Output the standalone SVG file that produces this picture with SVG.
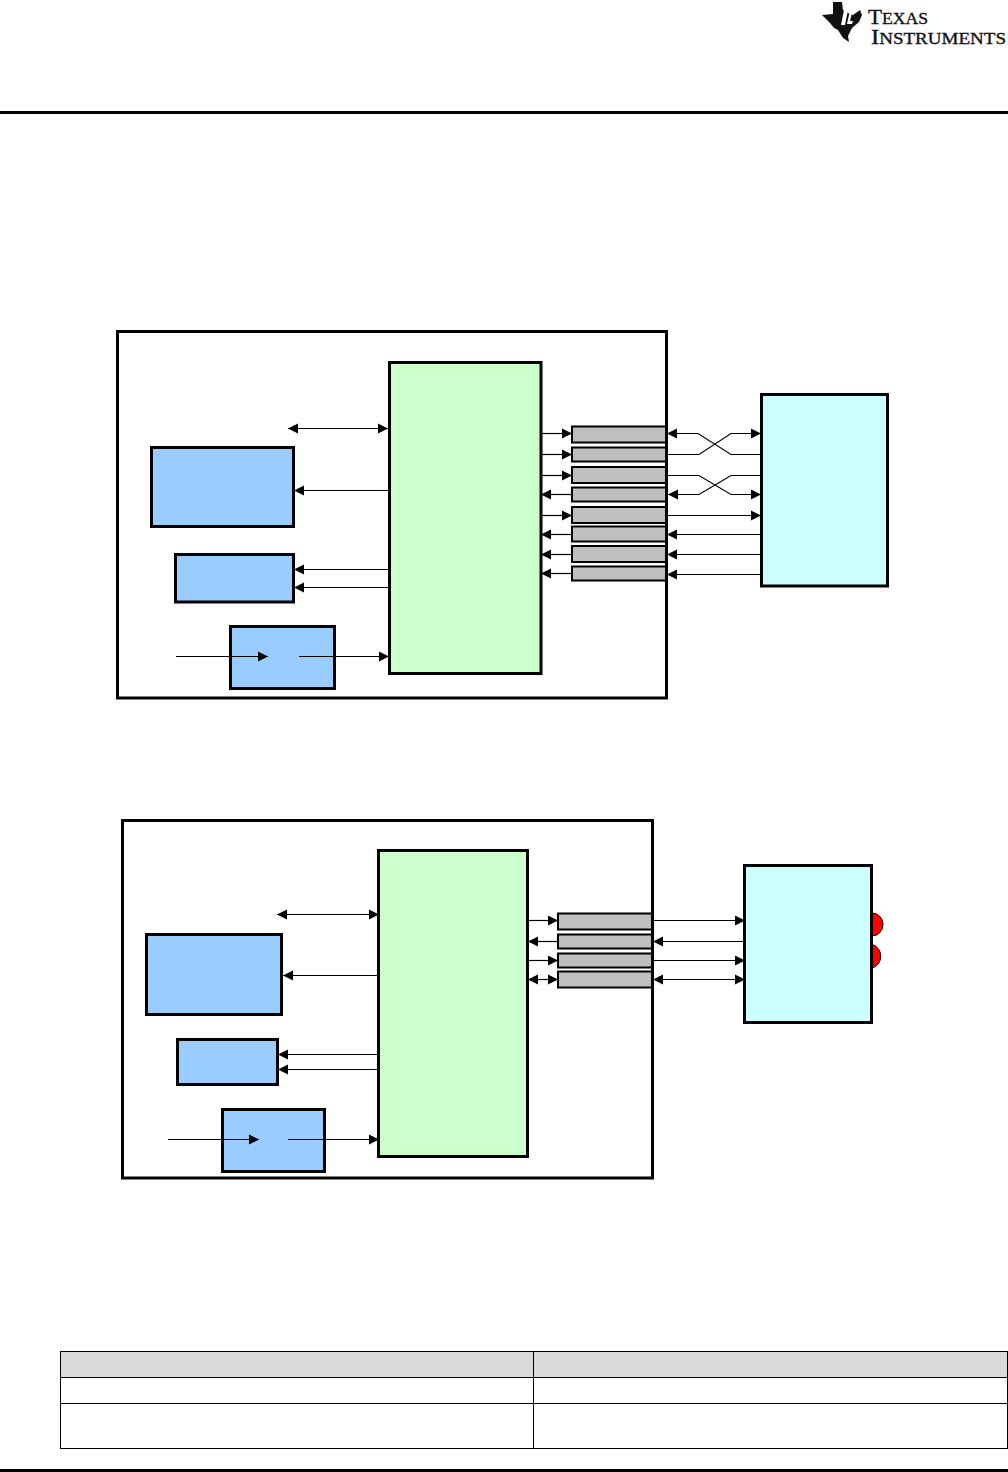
<svg xmlns="http://www.w3.org/2000/svg" width="1008" height="1472" viewBox="0 0 1008 1472">
<style>
.box{stroke:#000;stroke-width:3}
.blue{fill:#99ccff}.green{fill:#ccffcc}.cyan{fill:#ccffff}
.gray{fill:#bfbfbf;stroke:#000;stroke-width:2}
.frame{fill:#fff;stroke:#000;stroke-width:3}
.c line,.c polyline{fill:none;stroke:#000;stroke-width:1.2}
.cell{stroke:#000;stroke-width:1;fill:#fff}
.logo{font-family:"Liberation Serif",serif;fill:#111;stroke:#111;stroke-width:.35}
</style>
<defs>
<marker id="e" markerUnits="userSpaceOnUse" markerWidth="11" markerHeight="11" refX="10" refY="5.500" orient="auto"><path d="M0 .5L10 5.500L0 10.500Z" fill="#000"/></marker>
<marker id="s" markerUnits="userSpaceOnUse" markerWidth="11" markerHeight="11" refX="0" refY="5.500" orient="auto"><path d="M10 .5L0 5.500L10 10.500Z" fill="#000"/></marker>
</defs>
<rect width="1008" height="1472" fill="#fff"/>
<g id="logo">
<path d="M833 2L842 2L843 10L848 13L853 15L860 10L862 15L859 22L852 28L848 36L849 42L843 38L838 30L834 28L830 23L822 15L833 14Z" fill="#111"/>
<path d="M846 4L850 4L849 8L845 8ZM844 10L848 10L845 25L841 25ZM851 5L854 5L853 10L856 10L855 13L852 13L850 21L853 21L852 24L847 24Z" fill="#fff"/>
<text class="logo" x="868" y="24" font-size="22" textLength="60" lengthAdjust="spacingAndGlyphs">T<tspan font-size="17">EXAS</tspan></text>
<text class="logo" x="871" y="44" font-size="22" textLength="135" lengthAdjust="spacingAndGlyphs">I<tspan font-size="17">NSTRUMENTS</tspan></text>
</g>
<rect id="header-rule" x="0" y="111" width="1008" height="3"/>
<g id="diagram-a-frame"><rect class="frame" x="117.500" y="331.500" width="549" height="366.500"/></g>
<g id="a-host"><rect class="box green" x="389.500" y="362.500" width="151.500" height="311"/></g>
<g id="a-mem1"><rect class="box blue" x="151.500" y="447.500" width="142" height="79"/></g>
<g id="a-mem2"><rect class="box blue" x="175.500" y="554.500" width="118" height="47.500"/></g>
<g id="a-osc"><rect class="box blue" x="230.500" y="626.500" width="104" height="62"/></g>
<g id="a-device"><rect class="box cyan" x="761.500" y="394.500" width="126" height="191.500"/></g>
<g id="a-buffers">
<rect class="gray" x="572" y="426.500" width="94" height="16"/>
<rect class="gray" x="572" y="447.500" width="94" height="14"/>
<rect class="gray" x="572" y="467" width="94" height="16"/>
<rect class="gray" x="572" y="487.500" width="94" height="14"/>
<rect class="gray" x="572" y="507" width="94" height="16"/>
<rect class="gray" x="572" y="526.500" width="94" height="15"/>
<rect class="gray" x="572" y="546" width="94" height="16"/>
<rect class="gray" x="572" y="566.500" width="94" height="14"/>
</g>
<g id="diagram-b-frame"><rect class="frame" x="122.500" y="820.500" width="530" height="357.500"/></g>
<g id="b-host"><rect class="box green" x="378.500" y="850.500" width="149" height="306"/></g>
<g id="b-mem1"><rect class="box blue" x="146.500" y="934.500" width="135" height="80"/></g>
<g id="b-mem2"><rect class="box blue" x="177.500" y="1039.500" width="100" height="45"/></g>
<g id="b-osc"><rect class="box blue" x="222.500" y="1109.500" width="102" height="62"/></g>
<g id="b-leds">
<path d="M872 913A11 11.500 0 0 1 872 936Z" fill="#f00" stroke="#000"/>
<path d="M872 944.500A11 12 0 0 1 872 968Z" fill="#f00" stroke="#000"/>
</g>
<g id="b-device"><rect class="box cyan" x="744.500" y="865.500" width="127" height="157"/></g>
<g id="b-buffers">
<rect class="gray" x="558" y="913.500" width="94" height="16"/>
<rect class="gray" x="558" y="934.500" width="94" height="14"/>
<rect class="gray" x="558" y="953.500" width="94" height="14"/>
<rect class="gray" x="558" y="971.500" width="94" height="16"/>
</g>
<g id="connectors" class="c">
<line x1="288" y1="428.500" x2="388" y2="428.500" marker-start="url(#s)" marker-end="url(#e)"/>
<line x1="389" y1="490.500" x2="294" y2="490.500" marker-end="url(#e)"/>
<line x1="389" y1="569.500" x2="294" y2="569.500" marker-end="url(#e)"/>
<line x1="389" y1="587.500" x2="294" y2="587.500" marker-end="url(#e)"/>
<line x1="176" y1="656.500" x2="268" y2="656.500" marker-end="url(#e)"/>
<line x1="299" y1="656.500" x2="389" y2="656.500" marker-end="url(#e)"/>
<line x1="541" y1="433.500" x2="572" y2="433.500" marker-end="url(#e)"/>
<line x1="541" y1="454.500" x2="572" y2="454.500" marker-end="url(#e)"/>
<line x1="541" y1="475.500" x2="572" y2="475.500" marker-end="url(#e)"/>
<line x1="572" y1="494.500" x2="541" y2="494.500" marker-end="url(#e)"/>
<line x1="541" y1="515.500" x2="572" y2="515.500" marker-end="url(#e)"/>
<line x1="572" y1="534.500" x2="541" y2="534.500" marker-end="url(#e)"/>
<line x1="572" y1="554.500" x2="541" y2="554.500" marker-end="url(#e)"/>
<line x1="572" y1="573.500" x2="541" y2="573.500" marker-end="url(#e)"/>
<polyline points="761,454.500 731,454.500 698,433.500 667,433.500" marker-end="url(#e)"/>
<polyline points="667,454.500 699,454.500 731,433.500 761,433.500" marker-end="url(#e)"/>
<polyline points="667,475.500 699,475.500 731,494.500 761,494.500" marker-end="url(#e)"/>
<polyline points="761,475.500 731,475.500 699,494.500 668,494.500" marker-end="url(#e)"/>
<line x1="667" y1="515.500" x2="761" y2="515.500" marker-end="url(#e)"/>
<line x1="761" y1="534.500" x2="667" y2="534.500" marker-end="url(#e)"/>
<line x1="761" y1="554.500" x2="667" y2="554.500" marker-end="url(#e)"/>
<line x1="761" y1="574.500" x2="667" y2="574.500" marker-end="url(#e)"/>
<line x1="277" y1="914.500" x2="379" y2="914.500" marker-start="url(#s)" marker-end="url(#e)"/>
<line x1="378" y1="975.500" x2="283" y2="975.500" marker-end="url(#e)"/>
<line x1="378" y1="1054.500" x2="278" y2="1054.500" marker-end="url(#e)"/>
<line x1="378" y1="1069.500" x2="278" y2="1069.500" marker-end="url(#e)"/>
<line x1="168" y1="1139.500" x2="259" y2="1139.500" marker-end="url(#e)"/>
<line x1="288" y1="1139.500" x2="379" y2="1139.500" marker-end="url(#e)"/>
<line x1="528" y1="920.500" x2="558" y2="920.500" marker-end="url(#e)"/>
<line x1="558" y1="941.500" x2="528" y2="941.500" marker-end="url(#e)"/>
<line x1="528" y1="960.500" x2="558" y2="960.500" marker-end="url(#e)"/>
<line x1="528" y1="979.500" x2="558" y2="979.500" marker-start="url(#s)" marker-end="url(#e)"/>
<line x1="653" y1="920.500" x2="745" y2="920.500" marker-end="url(#e)"/>
<line x1="745" y1="941.500" x2="653" y2="941.500" marker-end="url(#e)"/>
<line x1="653" y1="960.500" x2="745" y2="960.500" marker-end="url(#e)"/>
<line x1="653" y1="979.500" x2="745" y2="979.500" marker-start="url(#s)" marker-end="url(#e)"/>
</g>
<g id="table">
<rect x="60.500" y="1351.500" width="473" height="26" fill="#d9d9d9" stroke="#000"/>
<rect x="533.500" y="1351.500" width="474" height="26" fill="#d9d9d9" stroke="#000"/>
<rect class="cell" x="60.500" y="1377.500" width="473" height="26"/>
<rect class="cell" x="533.500" y="1377.500" width="474" height="26"/>
<rect class="cell" x="60.500" y="1403.500" width="473" height="45"/>
<rect class="cell" x="533.500" y="1403.500" width="474" height="45"/>
</g>
<rect id="footer-rule" x="0" y="1469" width="1008" height="3"/>
</svg>
